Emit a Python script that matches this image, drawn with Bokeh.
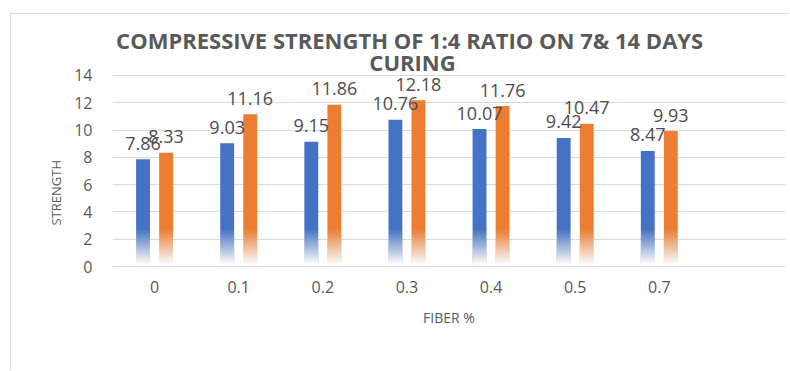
from bokeh.plotting import figure
from bokeh.models import Range1d, FixedTicker, Label, ColumnDataSource, LabelSet, Title
from bokeh.core.properties import value
from bokeh.embed import file_html
from bokeh.resources import INLINE

# ---------------- data ----------------
categories = ["0", "0.1", "0.2", "0.3", "0.4", "0.5", "0.7"]
days7 = [7.86, 9.03, 9.15, 10.76, 10.07, 9.42, 8.47]
days14 = [8.33, 11.16, 11.86, 12.18, 11.76, 10.47, 9.93]
y_ticks = [0, 2, 4, 6, 8, 10, 12, 14]

title_line1 = "COMPRESSIVE STRENGTH OF  1:4 RATIO ON 7& 14 DAYS"
title_line2 = "CURING"
x_title = "FIBER %"
y_title = "STRENGTH"

# ---------------- style ----------------
BLUE = "#4472C4"
ORANGE = "#ED7D31"
GRID = "#d9d9d9"
TXT = "#595959"
LBL = "#4d4d4d"
FONT = "Open Sans"
OFFSET = 0.137
BAR_W = 0.165
FADE_TOP = 3.0
FADE_STEPS = 30
Y_VIEW_TOP = 18.47   # extra room above the plot area for the title

p = figure(width=779, height=357,
           x_range=Range1d(-0.5, 7.5), y_range=Range1d(0, Y_VIEW_TOP),
           output_backend="svg", toolbar_location=None,
           min_border_left=101, min_border_right=5,
           min_border_top=0, min_border_bottom=105,
           margin=(13, 0, 0, 10))
p.styles = {"border-left": "1px solid #d9d9d9", "border-top": "1px solid #d9d9d9"}
p.outline_line_color = None
p.background_fill_color = "white"
p.border_fill_color = "white"

xs = list(range(len(categories)))

# white overlay alphas giving a smooth fade to white at the bar bottoms
step = FADE_TOP / FADE_STEPS
targets = []
for j in range(FADE_STEPS):
    m = (j + 0.5) * step
    targets.append(max(0.002, min(1.0, (m - 0.25) / 2.5)))
targets.append(1.0)
alphas = [1 - targets[j] / targets[j + 1] for j in range(FADE_STEPS)]


def draw_series(vals, shift, color):
    xpos = [x + shift for x in xs]
    src = ColumnDataSource(dict(x=xpos, top=vals))
    p.vbar(x="x", top="top", bottom=0, width=BAR_W, source=src,
           fill_color=color, line_color=None)
    for j in range(FADE_STEPS):
        a = alphas[j]
        if a <= 0:
            continue
        t = (j + 1) * step
        s = ColumnDataSource(dict(x=xpos, top=[min(t, v) for v in vals]))
        p.vbar(x="x", top="top", bottom=0, width=BAR_W + 0.004, source=s,
               fill_color="white", fill_alpha=a, line_color=None)
    lsrc = ColumnDataSource(dict(x=xpos, y=vals, t=[f"{v:.2f}" for v in vals]))
    p.add_layout(LabelSet(x="x", y="y", text="t", source=lsrc, y_offset=16,
                          text_align="center", text_baseline="middle",
                          text_font=value(FONT), text_font_size=value("18px"),
                          text_color=value(LBL)))


draw_series(days7, -OFFSET, BLUE)
draw_series(days14, OFFSET, ORANGE)

# axes
p.xaxis.ticker = FixedTicker(ticks=xs)
p.xaxis.major_label_overrides = {i: c for i, c in enumerate(categories)}
p.yaxis.ticker = FixedTicker(ticks=y_ticks)
for ax in (p.xaxis[0], p.yaxis[0]):
    ax.major_tick_line_color = None
    ax.minor_tick_line_color = None
    ax.major_label_text_font = FONT
    ax.major_label_text_font_size = "16px"
    ax.major_label_text_color = TXT
p.yaxis.axis_line_color = None
p.yaxis.major_label_standoff = 14
p.xaxis.axis_line_color = GRID
p.xaxis.major_label_standoff = 8
p.xaxis.axis_label = x_title
p.xaxis.axis_label_text_font = FONT
p.xaxis.axis_label_text_font_size = "14px"
p.xaxis.axis_label_text_font_style = "normal"
p.xaxis.axis_label_text_color = TXT
p.xaxis.axis_label_standoff = 12

p.xgrid.grid_line_color = None
p.ygrid.grid_line_color = GRID
p.ygrid.grid_line_width = 1

# y-axis title, placed in the left panel
p.add_layout(Title(text=y_title, align="left", offset=41, standoff=13,
                   text_font=FONT, text_font_size="13px", text_font_style="normal",
                   text_color=TXT), "left")

# chart title (two lines)
for txt, yy in ((title_line1, 227), (title_line2, 205)):
    p.add_layout(Label(x=300, y=yy, x_units="screen", y_units="screen", text=txt,
                       text_align="center", text_baseline="middle",
                       text_font=FONT, text_font_size="22px", text_font_style="bold",
                       text_color=TXT))

open("out.html", "w").write(file_html(p, INLINE))
